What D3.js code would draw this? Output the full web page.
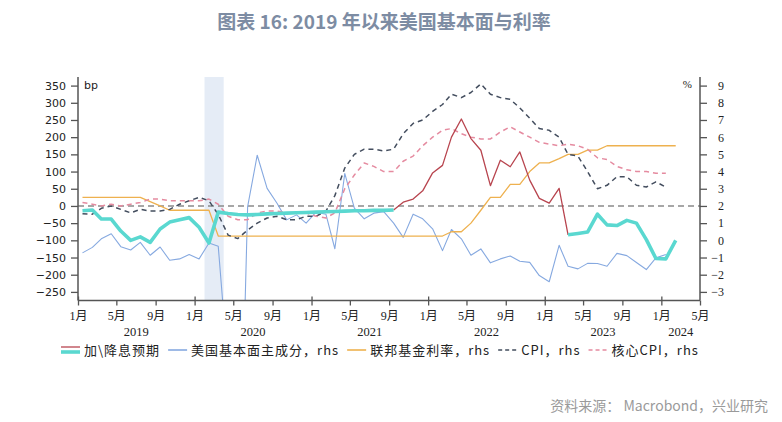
<!DOCTYPE html>
<html>
<head>
<meta charset="utf-8">
<script src="https://cdn.jsdelivr.net/npm/d3@7"></script>
<style>
  body { margin: 0; background: #fff; }
  svg { display: block; }
</style>
</head>
<body>
<script>
// monthly data, first value = 2019-01
var firstYear = 2019;

// 加\降息预期 (bp, left axis)
var rateExp = [-14, -12, -38, -38, -73, -100, -90, -106, -67, -47, -40, -34,
               -62, -108, -18, -22, -25, -26, -25, -23, -22, -21, -20, -19,
               -18, -17, -16, -15, -14, -14, -13, -13, -12, 11, 20, 44,
               96, 118, 200, 253, 196, 162, 59, 133, 114, 157, 75, 22,
               8, 51, -84, -80, -76, -24, -55, -57, -42, -50, -98, -153,
               -154, -100];
// months (index) where the expectation line is drawn red
var redFrom = 32;
var redTo = 50;

// 美国基本面主成分 (rhs)
var pca = [-0.73, -0.41, 0.09, 0.38, -0.37, -0.56, -0.12, -0.87, -0.39, -1.16, -1.08, -0.83,
           -1.08, -0.16, -0.35, -7.5, -20, 1.96, 4.95, 3.02, 2.16, 1.19, 1.48, 1.0,
           1.64, 1.52, -0.49, 3.89, 1.87, 1.25, 1.58, 1.67, 1.0, 0.17, 1.52, 1.25,
           0.67, -0.6, 0.63, 0.09, -0.87, -0.5, -1.31, -1.08, -0.91, -1.22, -1.28, -2.05,
           -2.41, -0.29, -1.51, -1.66, -1.34, -1.35, -1.51, -0.76, -0.89, -1.29, -1.7, -1.02,
           -0.83];

// 联邦基金利率 (rhs)
var fedRate = [2.5, 2.5, 2.5, 2.5, 2.5, 2.5, 2.5, 2.25, 2.0, 1.75, 1.75, 1.75,
               1.75, 1.75, 0.25, 0.25, 0.25, 0.25, 0.25, 0.25, 0.25, 0.25, 0.25, 0.25,
               0.25, 0.25, 0.25, 0.25, 0.25, 0.25, 0.25, 0.25, 0.25, 0.25, 0.25, 0.25,
               0.25, 0.25, 0.5, 0.5, 1.0, 1.75, 2.5, 2.5, 3.25, 3.25, 4.0, 4.5,
               4.5, 4.75, 5.0, 5.0, 5.25, 5.25, 5.5, 5.5, 5.5, 5.5, 5.5, 5.5,
               5.5, 5.5];

// CPI (rhs)
var cpi = [1.55, 1.52, 1.86, 2.0, 1.8, 1.6, 1.8, 1.7, 1.7, 1.8, 2.1, 2.3,
           2.5, 2.3, 1.5, 0.3, 0.1, 0.6, 1.0, 1.3, 1.4, 1.2, 1.2, 1.4,
           1.4, 1.7, 2.6, 4.2, 5.0, 5.3, 5.3, 5.2, 5.3, 6.2, 6.8, 7.0,
           7.5, 7.9, 8.5, 8.3, 8.6, 9.1, 8.5, 8.3, 8.2, 7.7, 7.1, 6.5,
           6.4, 6.0, 5.0, 4.9, 4.0, 3.0, 3.2, 3.7, 3.7, 3.2, 3.1, 3.4,
           3.1];

// 核心CPI (rhs)
var coreCpi = [2.2, 2.1, 2.0, 2.1, 2.0, 2.1, 2.2, 2.4, 2.4, 2.3, 2.3, 2.3,
               2.3, 2.4, 2.1, 1.4, 1.2, 1.2, 1.6, 1.7, 1.7, 1.6, 1.6, 1.6,
               1.4, 1.3, 1.6, 3.0, 3.8, 4.5, 4.3, 4.0, 4.0, 4.6, 4.9, 5.5,
               6.0, 6.4, 6.5, 6.2, 6.0, 5.9, 5.9, 6.3, 6.6, 6.3, 6.0, 5.7,
               5.6, 5.5, 5.6, 5.5, 5.3, 4.8, 4.7, 4.3, 4.1, 4.0, 4.0, 3.9,
               3.9];

var leftTicks = [350, 300, 250, 200, 150, 100, 50, 0, -50, -100, -150, -200, -250];
var rightTicks = [9, 8, 7, 6, 5, 4, 3, 2, 1, 0, -1, -2, -3];
var monthTicks = [1, 5, 9];
var years = [2019, 2020, 2021, 2022, 2023, 2024];
var recession = ["2020-02", "2020-04"];

var legendNames = ["加\\降息预期", "美国基本面主成分，rhs", "联邦基金利率，rhs", "CPI，rhs", "核心CPI，rhs"];

var svgW = 782, svgH = 422;
var plotL = 78, plotR = 700, plotT = 77, plotB = 300.5;

var cjk = "'Noto Sans CJK SC', sans-serif";

function monthDate(i) { return new Date(firstYear, i, 15); }

var svg = d3.select("body").append("svg")
            .attr("width", svgW)
            .attr("height", svgH);

var x = d3.scaleTime()
          .domain([new Date(2019, 0, 1), new Date(2024, 4, 1)])
          .range([plotL, plotR]);

var yL = d3.scaleLinear().domain([-275, 375]).range([plotB, plotT]);
var yR = d3.scaleLinear().domain([-3.5, 9.5]).range([plotB, plotT]);

svg.append("defs").append("clipPath")
   .attr("id", "plotClip")
   .append("rect")
   .attr("x", plotL).attr("y", plotT)
   .attr("width", plotR - plotL).attr("height", plotB - plotT);

// title
svg.append("text")
   .attr("x", 384).attr("y", 29)
   .attr("text-anchor", "middle")
   .style("font-family", cjk)
   .style("font-size", "19px")
   .style("font-weight", "bold")
   .attr("fill", "#7d8ca3")
   .text("图表 16: 2019 年以来美国基本面与利率");

// recession shading
var recParse = d3.timeParse("%Y-%m");
svg.append("rect")
   .attr("x", x(recParse(recession[0])))
   .attr("y", plotT)
   .attr("width", x(recParse(recession[1])) - x(recParse(recession[0])))
   .attr("height", plotB - plotT)
   .attr("fill", "#e5ecf6");

// zero line
svg.append("line")
   .attr("x1", plotL).attr("x2", plotR)
   .attr("y1", yL(0)).attr("y2", yL(0))
   .attr("stroke", "#8a8a8a")
   .attr("stroke-width", 1.5)
   .attr("stroke-dasharray", "6,4");

var plot = svg.append("g").attr("clip-path", "url(#plotClip)");

function drawLine(values, scale, color, width, dash, from, to) {
  from = from || 0;
  to = (to === undefined) ? values.length - 1 : to;
  var pts = [];
  for (var i = from; i <= to; i++) pts.push([i, values[i]]);
  var line = d3.line()
               .x(function(d) { return x(monthDate(d[0])); })
               .y(function(d) { return scale(d[1]); });
  plot.append("path")
      .datum(pts)
      .attr("d", line)
      .attr("fill", "none")
      .attr("stroke", color)
      .attr("stroke-width", width)
      .attr("stroke-linejoin", "round")
      .attr("stroke-dasharray", dash || null);
}

var cBlue = "#86a9e0", cOrange = "#eeb14f", cCpi = "#434d5e", cCore = "#e58ba0",
    cRed = "#b8454f", cCyan = "#5ad8d0";

drawLine(pca, yR, cBlue, 1.1);
drawLine(fedRate, yR, cOrange, 1.3);
drawLine(cpi, yR, cCpi, 1.5, "5,4");
drawLine(coreCpi, yR, cCore, 1.5, "5,4");
drawLine(rateExp, yL, cRed, 1.3, null, redFrom, redTo);
drawLine(rateExp, yL, cCyan, 3.6, null, 0, redFrom);
drawLine(rateExp, yL, cCyan, 3.6, null, redTo, rateExp.length - 1);

// left axis
var gL = svg.append("g")
   .attr("transform", "translate(" + plotL + ",0)")
   .call(d3.axisLeft(yL).tickValues(leftTicks).tickSize(7).tickPadding(5).tickSizeOuter(0));
gL.select(".domain").attr("stroke", "#555").attr("stroke-width", 1.5).attr("d", "M0," + plotT + "V" + plotB);
gL.selectAll(".tick line").attr("stroke", "#555").attr("stroke-width", 1.3);
gL.selectAll(".tick text").style("font-family", "'DejaVu Sans', sans-serif").style("font-size", "11px").attr("fill", "#222");

// right axis
var gR = svg.append("g")
   .attr("transform", "translate(" + plotR + ",0)")
   .call(d3.axisRight(yR).tickValues(rightTicks).tickSize(7).tickSizeOuter(0));
gR.select(".domain").attr("stroke", "#555").attr("stroke-width", 1.5).attr("d", "M0," + plotT + "V" + plotB);
gR.selectAll(".tick line").attr("stroke", "#555").attr("stroke-width", 1.3);
gR.selectAll(".tick text")
  .attr("x", 24).attr("text-anchor", "end")
  .style("font-family", "'Liberation Serif', serif").style("font-size", "12px").attr("fill", "#222");

// unit labels
svg.append("text").attr("x", plotL + 6).attr("y", 89)
   .style("font-family", "'DejaVu Sans', sans-serif").style("font-size", "11px").attr("fill", "#222")
   .text("bp");
svg.append("text").attr("x", 692).attr("y", 88).attr("text-anchor", "end")
   .style("font-family", "'Liberation Serif', serif").style("font-size", "11px").attr("fill", "#222")
   .text("%");

// bottom axis: ticks every 4 months
var tickDates = [];
years.forEach(function(yr) {
  monthTicks.forEach(function(m) {
    var d = new Date(yr, m - 1, 1);
    if (d <= x.domain()[1]) tickDates.push(d);
  });
});

var gX = svg.append("g")
   .attr("transform", "translate(0," + plotB + ")")
   .call(d3.axisBottom(x).tickValues(tickDates).tickSize(5).tickPadding(6).tickSizeOuter(0)
           .tickFormat(function(d) { return (d.getMonth() + 1) + "月"; }));
gX.select(".domain").attr("stroke", "#555").attr("stroke-width", 1.5).attr("d", "M" + plotL + ",0H" + plotR);
gX.selectAll(".tick line").attr("stroke", "#555").attr("stroke-width", 1.3)
  .attr("y1", function(d) { return d.getMonth() === 0 ? -4 : 0; });
gX.selectAll(".tick text")
  .style("font-family", "'Liberation Serif', " + cjk).style("font-size", "12px").attr("fill", "#222");

// year labels centred in each year
svg.selectAll(".yearLabel")
   .data(years)
   .enter().append("text")
   .attr("class", "yearLabel")
   .attr("x", function(yr) {
      var a = x(new Date(yr, 0, 1));
      var b = Math.min(x(new Date(yr + 1, 0, 1)), plotR);
      return (a + b) / 2;
   })
   .attr("y", 336)
   .attr("text-anchor", "middle")
   .style("font-family", "'Liberation Serif', serif").style("font-size", "12.5px").attr("fill", "#222")
   .text(function(yr) { return yr; });

// legend
var legendStyles = [
  [{c: cRed, w: 1.3, dy: -3}, {c: cCyan, w: 3.6, dy: 2}],
  [{c: cBlue, w: 1.6, dy: 0}],
  [{c: cOrange, w: 1.6, dy: 0}],
  [{c: cCpi, w: 1.5, dy: 0, dash: "4,3"}],
  [{c: cCore, w: 1.5, dy: 0, dash: "4,3"}]
];
var legY = 350;
var legX = 61;
legendNames.forEach(function(name, i) {
  var g = svg.append("g");
  legendStyles[i].forEach(function(s) {
    g.append("line")
     .attr("x1", legX).attr("x2", legX + 19)
     .attr("y1", legY + s.dy).attr("y2", legY + s.dy)
     .attr("stroke", s.c).attr("stroke-width", s.w)
     .attr("stroke-dasharray", s.dash || null);
  });
  var t = g.append("text")
     .attr("x", legX + 23).attr("y", legY + 5)
     .style("font-family", cjk).style("font-size", "13px")
     .style("letter-spacing", "1px").attr("fill", "#222")
     .text(name);
  legX += 23 + t.node().getComputedTextLength() + 8;
});

// source
svg.append("text")
   .attr("x", 768).attr("y", 411)
   .attr("text-anchor", "end")
   .style("font-family", cjk).style("font-size", "14px").attr("fill", "#9a9a9a")
   .text("资料来源：  Macrobond，兴业研究");
</script>
</body>
</html>
